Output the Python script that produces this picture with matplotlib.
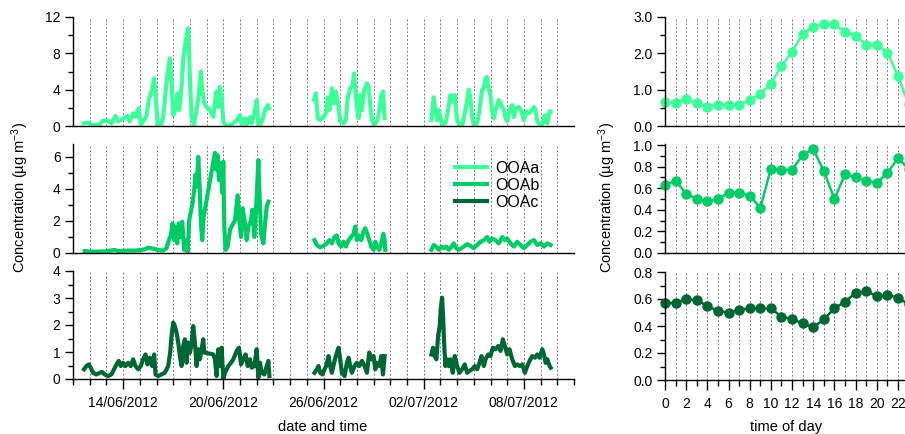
import matplotlib
matplotlib.use('Agg')
import matplotlib.pyplot as plt
import matplotlib.dates as mdates
import matplotlib.ticker as mticker
from matplotlib.lines import Line2D
import numpy as np
from datetime import datetime

plt.rcParams['font.family'] = ['Liberation Sans', 'DejaVu Sans']
plt.rcParams['mathtext.default'] = 'regular'
plt.rcParams['font.size'] = 10

nan = np.nan
start = datetime(2012, 6, 11)

# time series: days since 11/06/2012 00:00, nan = data gap
ooaa_day = [0.66, 0.90, 1.10, 1.40, 1.60, 1.80, 2.10, 2.30, 2.54, 2.70,
            2.90, 3.10, 3.26, 3.40, 3.60, 3.74, 3.94, 4.06, 4.20, 4.40,
            4.54, 4.74, 4.86, 4.96, 5.06, 5.26, 5.40, 5.54, 5.66, 5.80,
            5.90, 6.00, 6.14, 6.26, 6.36, 6.50, 6.60, 6.70, 6.80, 6.90,
            7.00, 7.10, 7.24, 7.40, 7.54, 7.66, 7.74, 7.86, 8.00, 8.20,
            8.40, 8.50, 8.60, 8.70, 8.80, 8.90, 9.00, 9.14, 9.40, 9.60,
            9.80, 10.00, 10.10, 10.30, 10.40, 10.60, 10.70, 10.86, 11.00, 11.10,
            11.26, 11.40, 11.50, 11.66, 11.74, nan,
            14.44, 14.54, 14.66, 14.80, 15.00, 15.14, 15.26, 15.36, 15.50, 15.62,
            15.74, 15.90, 16.00, 16.20, 16.34, 16.46, 16.60, 16.74, 16.84, 16.90,
            17.00, 17.10, 17.20, 17.30, 17.44, 17.60, 17.70, 17.80, 17.90, 18.04,
            18.20, 18.34, 18.46, 18.56, 18.66, nan,
            21.46, 21.60, 21.70, 21.80, 21.90, 22.00, 22.10, 22.30, 22.46, 22.60,
            22.70, 22.86, 23.00, 23.14, 23.30, 23.46, 23.60, 23.70, 23.80, 23.90,
            24.00, 24.20, 24.34, 24.50, 24.60, 24.70, 24.80, 24.90, 25.00, 25.10,
            25.20, 25.34, 25.50, 25.66, 25.80, 25.90, 26.00, 26.14, 26.30, 26.40,
            26.54, 26.70, 26.86, 27.00, 27.14, 27.30, 27.46, 27.60, 27.70, 27.80,
            28.00, 28.14, 28.26, 28.40, 28.54, 28.60]
ooaa_val = [0.3, 0.37, 0.1, 0.1, 0.2, 0.6, 0.55, 0.3, 1.1, 0.5,
            0.7, 0.95, 1.1, 0.5, 1.4, 1.0, 1.95, 0.1, 0.5, 1.1,
            2.9, 4.0, 5.25, 3.2, 0.1, 0.1, 1.0, 3.6, 5.8, 7.45,
            5.1, 1.2, 1.75, 3.6, 1.75, 4.3, 7.3, 8.7, 9.8, 10.75,
            5.4, 1.0, 0.1, 1.75, 3.6, 6.0, 4.0, 2.5, 2.1, 1.75,
            1.0, 2.7, 3.8, 2.1, 4.3, 3.2, 0.5, 0.0, 0.1, 0.3,
            0.65, 1.2, 0.1, 0.85, 0.1, 1.0, 0.3, 1.4, 2.85, 0.1,
            0.3, 1.0, 1.75, 2.3, 1.95, nan,
            2.9, 3.6, 0.85, 0.65, 1.0, 1.4, 3.15, 1.75, 4.15, 2.5,
            3.8, 2.1, 0.5, 0.3, 0.65, 3.2, 4.15, 4.5, 5.8, 4.0,
            2.1, 0.85, 3.4, 1.75, 4.0, 4.7, 4.3, 2.3, 0.65, 0.1,
            0.5, 1.6, 3.4, 3.8, 0.85, nan,
            0.65, 3.15, 1.75, 0.65, 1.75, 1.0, 0.1, 0.3, 1.75, 3.4,
            2.7, 3.4, 0.65, 0.1, 0.1, 1.4, 2.85, 4.0, 3.05, 1.0,
            0.1, 0.3, 1.75, 4.0, 4.15, 5.25, 5.4, 4.0, 3.4, 1.6,
            0.85, 1.95, 2.85, 2.3, 1.75, 0.85, 0.5, 1.75, 2.3, 1.0,
            1.95, 2.1, 1.6, 0.65, 1.6, 1.4, 1.75, 2.1, 1.75, 0.5,
            0.1, 0.3, 1.2, 0.3, 1.6, 1.6]

ooab_day = [0.70, 1.30, 1.90, 2.50, 2.70, 3.30, 3.70, 4.10, 4.30, 4.50,
            4.80, 5.10, 5.40, 5.60, 5.74, 5.86, 5.96, 6.06, 6.14, 6.24,
            6.34, 6.46, 6.54, 6.66, 6.76, 6.86, 6.96, 7.06, 7.16, 7.26,
            7.34, 7.42, 7.50, 7.60, 7.66, 7.74, 7.82, 8.50, 8.58, 8.66,
            8.74, 8.86, 8.94, 9.00, 9.06, 9.14, 9.26, 9.40, 9.50, 9.70,
            9.86, 9.96, 10.06, 10.16, 10.30, 10.40, 10.50, 10.66, 10.74, 10.86,
            11.00, 11.10, 11.16, 11.26, 11.40, 11.50, 11.60, 11.70, nan,
            14.46, 14.60, 14.80, 15.00, 15.20, 15.34, 15.50, 15.66, 15.80, 15.90,
            16.06, 16.20, 16.34, 16.50, 16.66, 16.80, 16.90, 17.00, 17.10, 17.26,
            17.40, 17.50, 17.62, 17.74, 17.86, 18.00, 18.10, 18.20, 18.34, 18.46,
            18.58, 18.66, 18.70, nan,
            21.46, 21.60, 21.74, 21.90, 22.06, 22.20, 22.34, 22.50, 22.66, 22.80,
            22.94, 23.10, 23.26, 23.40, 23.60, 23.80, 24.00, 24.20, 24.40, 24.60,
            24.80, 24.94, 25.10, 25.30, 25.50, 25.70, 25.86, 26.00, 26.20, 26.40,
            26.60, 26.80, 27.00, 27.20, 27.40, 27.60, 27.80, 28.00, 28.20, 28.40,
            28.60]
ooab_val = [0.12, 0.08, 0.1, 0.19, 0.12, 0.15, 0.15, 0.19, 0.23, 0.33,
            0.27, 0.19, 0.15, 0.3, 0.8, 1.1, 1.85, 0.8, 1.65, 0.6,
            1.85, 1.0, 1.95, 0.19, 0.8, 0.08, 2.05, 2.6, 3.1, 3.95,
            4.9, 4.15, 6.0, 3.75, 1.85, 0.8, 2.25, 6.25, 5.2, 6.1,
            4.55, 5.6, 3.75, 5.7, 1.65, 0.19, 0.4, 1.45, 1.65, 2.05,
            3.6, 2.05, 1.0, 2.8, 1.85, 0.8, 1.65, 2.05, 2.7, 1.0,
            3.5, 5.8, 3.95, 1.2, 0.6, 1.85, 2.9, 3.2, nan,
            0.8, 0.5, 0.35, 0.45, 0.6, 0.8, 0.6, 1.0, 1.1, 0.6,
            0.4, 0.7, 0.4, 0.8, 1.0, 1.2, 1.65, 0.8, 1.1, 0.8,
            1.35, 1.55, 1.2, 0.8, 0.4, 0.2, 0.7, 0.4, 0.2, 0.6,
            1.2, 0.8, 0.2, nan,
            0.2, 0.5, 0.4, 0.2, 0.4, 0.3, 0.4, 0.2, 0.4, 0.6,
            0.3, 0.2, 0.3, 0.4, 0.55, 0.45, 0.3, 0.5, 0.7, 0.8,
            1.0, 0.7, 0.9, 0.8, 0.6, 1.0, 0.8, 0.9, 0.6, 0.4,
            0.7, 0.5, 0.3, 0.5, 0.7, 0.8, 0.5, 0.6, 0.4, 0.6,
            0.5]

ooac_day = [0.66, 0.80, 0.94, 1.06, 1.20, 1.40, 1.60, 1.74, 1.90, 2.10,
            2.30, 2.46, 2.60, 2.74, 2.86, 3.00, 3.14, 3.30, 3.46, 3.60,
            3.74, 3.90, 4.06, 4.20, 4.34, 4.46, 4.60, 4.74, 4.86, 4.94,
            5.10, 5.30, 5.50, 5.70, 5.82, 5.90, 6.00, 6.10, 6.20, 6.30,
            6.40, 6.50, 6.60, 6.70, 6.80, 6.90, 7.00, 7.10, 7.20, 7.30,
            7.40, 7.50, 7.60, 7.70, 7.80, 7.86, 8.40, 8.50, 8.60, 8.70,
            8.80, 8.90, 9.00, 9.10, 9.30, 9.46, 9.60, 9.80, 9.94, 10.06,
            10.20, 10.34, 10.46, 10.60, 10.70, 10.86, 11.00, 11.10, 11.20, 11.30,
            11.46, 11.60, 11.70, 11.76, nan,
            14.46, 14.60, 14.70, 14.80, 14.94, 15.06, 15.16, 15.30, 15.40, 15.50,
            15.66, 15.80, 15.90, 16.00, 16.10, 16.26, 16.40, 16.50, 16.60, 16.70,
            16.86, 17.00, 17.14, 17.30, 17.46, 17.60, 17.74, 17.86, 18.00, 18.10,
            18.20, 18.34, 18.46, 18.56, 18.66, nan,
            21.46, 21.56, 21.66, 21.76, 21.86, 21.96, 22.02, 22.10, 22.16, 22.22,
            22.30, 22.40, 22.50, 22.60, 22.74, 22.86, 23.00, 23.14, 23.30, 23.46,
            23.60, 23.74, 23.90, 24.06, 24.20, 24.34, 24.46, 24.60, 24.70, 24.86,
            25.00, 25.14, 25.30, 25.46, 25.60, 25.74, 25.86, 26.00, 26.14, 26.30,
            26.46, 26.60, 26.74, 26.90, 27.06, 27.20, 27.34, 27.50, 27.66, 27.80,
            27.94, 28.10, 28.20, 28.30, 28.40, 28.54, 28.60]
ooac_val = [0.36, 0.48, 0.54, 0.42, 0.23, 0.17, 0.23, 0.26, 0.17, 0.11,
            0.17, 0.36, 0.54, 0.67, 0.48, 0.6, 0.48, 0.6, 0.48, 0.73,
            0.48, 0.36, 0.48, 0.73, 0.91, 0.54, 0.79, 0.48, 0.91, 0.17,
            0.11, 0.17, 0.23, 0.48, 0.98, 1.59, 2.09, 1.96, 1.72, 1.35,
            0.85, 0.48, 1.22, 1.47, 0.6, 1.35, 0.98, 1.28, 1.96, 1.35,
            0.48, 1.1, 0.73, 1.1, 1.47, 0.98, 0.91, 0.73, 0.11, 1.1,
            0.48, 1.16, 0.0, 0.23, 0.48, 0.6, 0.73, 1.04, 1.16, 0.54,
            0.73, 0.91, 0.48, 0.73, 0.42, 0.48, 1.1, 0.05, 0.6, 0.23,
            0.17, 0.48, 0.67, 0.11, nan,
            0.23, 0.36, 0.48, 0.23, 0.17, 0.36, 0.48, 0.85, 0.48, 0.23,
            0.67, 0.98, 1.16, 0.73, 0.23, 0.11, 0.6, 0.79, 0.48, 0.23,
            0.48, 0.6, 0.48, 0.67, 0.48, 0.23, 0.98, 0.73, 0.85, 0.36,
            0.6, 0.48, 0.85, 0.17, 0.85, nan,
            0.91, 1.16, 0.85, 0.73, 1.59, 1.96, 2.58, 3.01, 2.33, 1.35,
            0.48, 0.73, 0.48, 0.73, 0.23, 0.85, 0.48, 0.23, 0.36, 0.54,
            0.23, 0.3, 0.36, 0.48, 0.36, 0.6, 0.85, 0.48, 0.73, 0.91,
            0.85, 1.16, 1.1, 1.22, 1.04, 1.47, 1.22, 0.91, 1.1, 0.73,
            0.48, 0.54, 0.48, 0.54, 0.23, 0.48, 0.67, 0.85, 0.79, 0.91,
            0.79, 1.1, 0.91, 0.6, 0.73, 0.48, 0.42]

# diurnal cycles
hours = list(range(24))
ooaa_diurnal = [0.67, 0.64, 0.74, 0.63, 0.53, 0.58, 0.57, 0.57, 0.72, 0.89, 1.16, 1.66,
                2.04, 2.54, 2.72, 2.80, 2.80, 2.59, 2.49, 2.23, 2.23, 2.02, 1.38, 0.60]
ooab_diurnal = [0.63, 0.67, 0.55, 0.50, 0.48, 0.50, 0.56, 0.56, 0.53, 0.42, 0.78, 0.77,
                0.77, 0.91, 0.96, 0.76, 0.50, 0.73, 0.70, 0.67, 0.65, 0.74, 0.88, 0.78]
ooac_diurnal = [0.57, 0.57, 0.60, 0.59, 0.55, 0.51, 0.50, 0.52, 0.53, 0.53, 0.53, 0.47,
                0.45, 0.42, 0.39, 0.45, 0.53, 0.58, 0.645, 0.66, 0.62, 0.63, 0.61, 0.56]

names = ['OOAa', 'OOAb', 'OOAc']
colors = ['#3DFF9A', '#00CC66', '#006633']
date_ticks = ['2012-06-14', '2012-06-20', '2012-06-26', '2012-07-02', '2012-07-08']

W, H = 905, 434
fig = plt.figure(figsize=(W / 100, H / 100), dpi=100)

def fx(px):
    return px / W

def rect(left, right, top, bottom):
    return [left / W, 1 - bottom / H, (right - left) / W, (bottom - top) / H]

base = mdates.date2num(start)
rows = [(17, 126), (144, 253), (271, 379)]
rows_r = [(17, 126), (144, 253), (272, 380)]
ts_days = [ooaa_day, ooab_day, ooac_day]
ts_vals = [ooaa_val, ooab_val, ooac_val]
diurnal = [ooaa_diurnal, ooab_diurnal, ooac_diurnal]
left_ylim = [(0, 12), (0, 6.8), (0, 4)]
left_major = [4, 2, 1]
left_minor = [2, 1, 0.5]
right_ylim = [(0, 3.0), (0, 1.01), (0, 0.8)]
right_major = [1.0, 0.2, 0.2]
right_minor = [0.5, 0.1, 0.1]

grid_kw = dict(color='#7a7a7a', linestyle=(0, (2, 2)), linewidth=0.7)

def style(ax, bottom):
    for s in ['top', 'right']:
        ax.spines[s].set_visible(False)
    ax.spines['left'].set_linewidth(1.0)
    ax.spines['bottom'].set_linewidth(1.0)
    ax.tick_params(axis='y', which='major', direction='out', length=6, width=1, pad=3)
    ax.tick_params(axis='y', which='minor', direction='out', length=3.5, width=1)
    if bottom:
        ax.tick_params(axis='x', which='major', direction='out', length=7, width=1, pad=5)
        ax.tick_params(axis='x', which='minor', direction='out', length=4, width=1)
    else:
        ax.tick_params(axis='x', which='both', bottom=False, labelbottom=False)
    ax.grid(True, axis='x', which='both', **grid_kw)
    ax.set_axisbelow(True)

for i in range(3):
    # time series
    ax = fig.add_axes(rect(73, 574, *rows[i]))
    x = base + np.array(ts_days[i], dtype=float)
    ax.plot(x, ts_vals[i], color=colors[i], lw=3.0, solid_joinstyle='round')
    ax.set_xlim(base, base + 30)
    ax.set_ylim(*left_ylim[i])
    ax.yaxis.set_major_locator(mticker.MultipleLocator(left_major[i]))
    ax.yaxis.set_minor_locator(mticker.MultipleLocator(left_minor[i]))
    ax.xaxis.set_major_locator(mticker.FixedLocator(
        [mdates.date2num(datetime.strptime(d, '%Y-%m-%d')) for d in date_ticks]))
    ax.xaxis.set_minor_locator(mticker.MultipleLocator(1))
    ax.xaxis.set_major_formatter(mdates.DateFormatter('%d/%m/%Y'))
    style(ax, i == 2)

    # diurnal
    axr = fig.add_axes(rect(665, 665 + 23 * 10.59, *rows_r[i]))
    axr.plot(hours, diurnal[i], color=colors[i], lw=1.8, marker='o', ms=6.5,
             clip_on=False)
    axr.set_xlim(0, 23)
    axr.set_ylim(*right_ylim[i])
    axr.yaxis.set_major_locator(mticker.MultipleLocator(right_major[i]))
    axr.yaxis.set_minor_locator(mticker.MultipleLocator(right_minor[i]))
    axr.yaxis.set_major_formatter(mticker.FormatStrFormatter('%.1f'))
    axr.xaxis.set_major_locator(mticker.MultipleLocator(2))
    axr.xaxis.set_minor_locator(mticker.MultipleLocator(1))
    style(axr, i == 2)

handles = [Line2D([], [], color=c, lw=3.0) for c in colors]
fig.legend(handles, names, loc='upper left', bbox_to_anchor=(fx(455), 1 - 161 / H),
           frameon=False, handlelength=2.0, handletextpad=0.5, labelspacing=0.12,
           borderpad=0, borderaxespad=0, fontsize=11.5)

ylab = 'Concentration (µg m$^{-3}$)'
fig.text(fx(20), 1 - 198 / H, ylab, rotation=90, ha='center', va='center', fontsize=10.5)
fig.text(fx(607), 1 - 198 / H, ylab, rotation=90, ha='center', va='center', fontsize=10.5)
fig.text(fx(323), 1 - 427 / H, 'date and time', ha='center', va='center', fontsize=10.5)
fig.text(fx(786), 1 - 427 / H, 'time of day', ha='center', va='center', fontsize=10.5)

fig.savefig('out.png', dpi=100)
